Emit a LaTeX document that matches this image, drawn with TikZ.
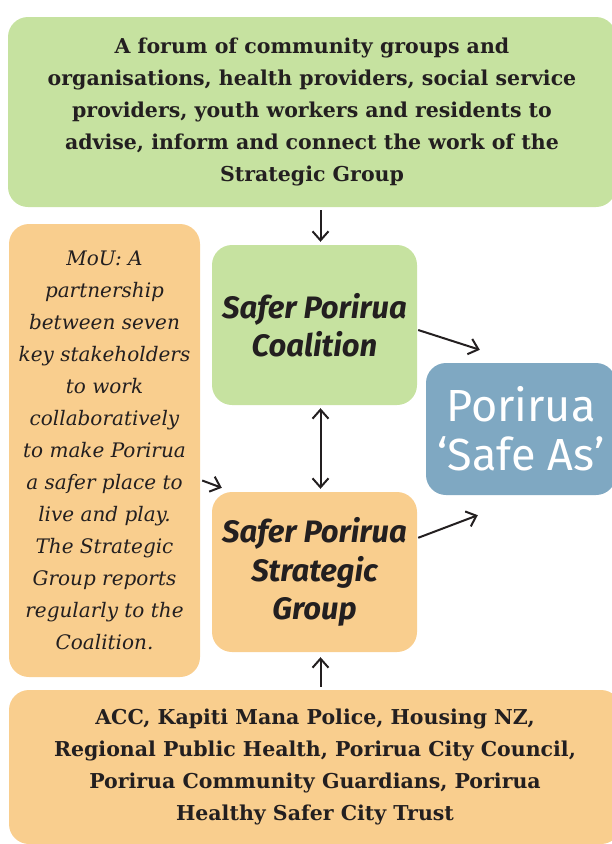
\documentclass[tikz,border=0pt]{standalone}
\usepackage{fontspec}
\setmainfont{DejaVu Serif}
\newfontfamily\headfont{Fira Sans}
\usetikzlibrary{arrows.meta,calc}
\definecolor{leafgreen}{RGB}{198,226,160}
\definecolor{sandorange}{RGB}{249,206,142}
\definecolor{slateblue}{RGB}{127,168,194}
\definecolor{ink}{RGB}{35,31,32}
\begin{document}
\begin{tikzpicture}[x=1pt, y=-1pt,
	box/.style = {rounded corners=20pt, text=ink, align=center, inner sep=0pt},
	greenbox/.style = {box, fill=leafgreen},
	orangebox/.style = {box, fill=sandorange},
	bodytext/.style = {font=\fontsize{20.5}{32}\selectfont\bfseries},
	notetext/.style = {font=\fontsize{20}{32}\selectfont\itshape},
	headtext/.style = {font=\headfont\fontsize{31}{38.5}\selectfont\bfseries\itshape},
	link/.style = {-{Straight Barb[length=9pt,width=16pt]}, line width=2pt, draw=ink}]
	\useasboundingbox (0,0) rectangle (612,844);
	% boxes
	\node[greenbox, bodytext, minimum width=608, minimum height=190] (forum) at (312,112) {A forum of community groups and\\organisations, health providers, social service\\providers, youth workers and residents to\\advise, inform and connect the work of the\\Strategic Group};
	\node[orangebox, notetext, minimum width=191, minimum height=453] (mou) at (104.5,450.5) {MoU: A\\partnership\\between seven\\key stakeholders\\to work\\collaboratively\\to make Porirua\\a safer place to\\live and play.\\The Strategic\\Group reports\\regularly to the\\Coalition.};
	\node[greenbox, headtext, minimum width=205, minimum height=160] (coalition) at (314.5,325) {Safer Porirua\\Coalition};
	\node[orangebox, headtext, minimum width=205, minimum height=160] (strategic) at (314.5,572) {Safer Porirua\\Strategic\\Group};
	\node[box, fill=slateblue, text=white, font=\headfont\fontsize{45}{49}\selectfont, minimum width=190, minimum height=132] (safeas) at (521,429) {Porirua\\‘Safe As’};
	\node[orangebox, bodytext, minimum width=612, minimum height=154] (partners) at (315,767) {ACC, Kapiti Mana Police, Housing NZ,\\Regional Public Health, Porirua City Council,\\Porirua Community Guardians, Porirua\\Healthy Safer City Trust};
	% connectors
	\draw[link, shorten <=3pt, shorten >=3pt] ([xshift=6pt]forum.south -| coalition.north) -- ([xshift=6pt]coalition.north);
	\draw[link, {Straight Barb[length=9pt,width=16pt]}-{Straight Barb[length=9pt,width=16pt]}, shorten <=3pt, shorten >=3pt] ([xshift=6pt]coalition.south) -- ([xshift=6pt]strategic.north);
	\draw[link, shorten <=3pt, shorten >=5pt] ([xshift=6pt]partners.north -| strategic.south) -- ([xshift=6pt]strategic.south);
	\draw[link] ($(coalition.east)+(1,5)$) -- ($(safeas.north west)+(54,-13)$);
	\draw[link] ($(strategic.north east)+(1,46)$) -- ($(safeas.south west)+(52,20)$);
	\draw[link] ($(mou.east)+(2,30)$) -- ($(strategic.north west)+(10,-4)$);
\end{tikzpicture}
\end{document}
